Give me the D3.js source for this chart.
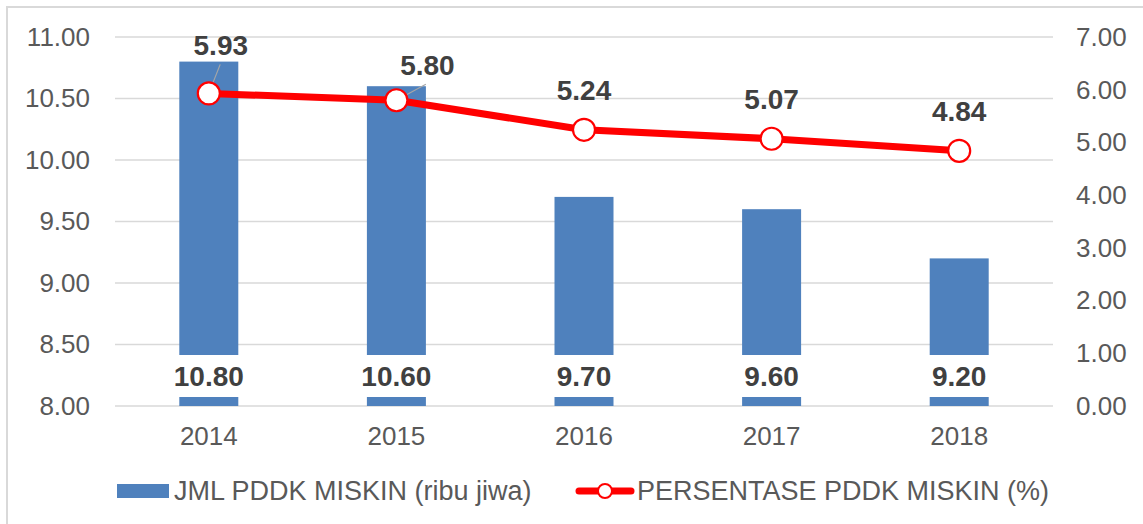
<!DOCTYPE html>
<html>
<head>
<meta charset="utf-8">
<script src="https://cdn.jsdelivr.net/npm/d3@7"></script>
<style>
  body { margin: 0; background: #fff; }
  svg { display: block; font-family: "Liberation Sans", Arial, sans-serif; }
</style>
</head>
<body>
<svg id="chart" width="1143" height="524"></svg>
<script>
(function(){
    "use strict";

    // data
    var years = ["2014", "2015", "2016", "2017", "2018"];
    var jmlMiskin = [10.80, 10.60, 9.70, 9.60, 9.20];      // ribu jiwa, left axis
    var persenMiskin = [5.93, 5.80, 5.24, 5.07, 4.84];     // %, right axis
    var leftTicks = [8.0, 8.5, 9.0, 9.5, 10.0, 10.5, 11.0];
    var rightTicks = [0, 1, 2, 3, 4, 5, 6, 7];

    // label nudges for the line labels (dx, dy from the point)
    var lineLabelNudge = [[12, -38], [31, -25], [0, -30], [0, -30], [0, -30]];

    var svg = d3.select("#chart");
    var blue = "#4f81bd", red = "#ff0000", axisGrey = "#595959", labelDark = "#404040";

    // outer frame
    svg.append("rect")
        .attr("x", 7).attr("y", 7)
        .attr("width", 1300).attr("height", 700)
        .attr("fill", "none")
        .attr("stroke", "#d9d9d9")
        .attr("stroke-width", 2);

    var x = d3.scaleBand().domain(years).range([115, 1053]);
    var yL = d3.scaleLinear().domain([8, 11]).range([406, 37]);
    var yR = d3.scaleLinear().domain([0, 7]).range([406, 37]);

    // gridlines
    svg.append("g")
        .selectAll("line")
        .data(leftTicks)
        .enter()
        .append("line")
        .attr("x1", 115).attr("x2", 1053)
        .attr("y1", function(d) { return yL(d); })
        .attr("y2", function(d) { return yL(d); })
        .attr("stroke", "#d9d9d9")
        .attr("stroke-width", 1.5);

    function styleAxis(g) {
        g.select(".domain").remove();
        g.selectAll("text")
            .attr("fill", axisGrey)
            .style("font-size", "26px")
            .style("font-family", "Liberation Sans, Arial, sans-serif");
    }

    // left axis
    svg.append("g")
        .attr("transform", "translate(115,0)")
        .call(d3.axisLeft(yL).tickValues(leftTicks).tickFormat(d3.format(".2f")).tickSize(0).tickPadding(25))
        .call(styleAxis);

    // right axis
    svg.append("g")
        .attr("transform", "translate(1053,0)")
        .call(d3.axisRight(yR).tickValues(rightTicks).tickFormat(d3.format(".2f")).tickSize(0).tickPadding(23))
        .call(styleAxis);

    // bottom axis
    svg.append("g")
        .attr("transform", "translate(0,406)")
        .call(d3.axisBottom(x).tickSize(0).tickPadding(21))
        .call(styleAxis);

    // bars
    var barW = 59;
    svg.append("g")
        .selectAll("rect")
        .data(jmlMiskin)
        .enter()
        .append("rect")
        .attr("x", function(d, i) { return x(years[i]) + x.bandwidth() / 2 - barW / 2; })
        .attr("y", function(d) { return yL(d); })
        .attr("width", barW)
        .attr("height", function(d) { return yL(8) - yL(d); })
        .attr("fill", blue);

    // bar labels, inside base with white box
    var barLab = svg.append("g")
        .selectAll("g")
        .data(jmlMiskin)
        .enter()
        .append("g")
        .attr("transform", function(d, i) {
            return "translate(" + (x(years[i]) + x.bandwidth() / 2) + "," + (yL(8) - 30) + ")";
        });
    barLab.append("rect")
        .attr("x", -44).attr("y", -21)
        .attr("width", 88).attr("height", 42)
        .attr("fill", "#fff");
    barLab.append("text")
        .attr("text-anchor", "middle")
        .attr("y", 10)
        .attr("fill", labelDark)
        .style("font-size", "28px")
        .style("font-weight", "bold")
        .text(function(d) { return d3.format(".2f")(d); });

    // line
    var cx = function(i) { return x(years[i]) + x.bandwidth() / 2; };
    var line = d3.line()
        .x(function(d, i) { return cx(i); })
        .y(function(d) { return yR(d); });

    svg.append("path")
        .datum(persenMiskin)
        .attr("d", line)
        .attr("fill", "none")
        .attr("stroke", red)
        .attr("stroke-width", 7)
        .attr("stroke-linejoin", "round")
        .attr("stroke-linecap", "round");

    // leader lines for the nudged labels
    svg.append("g")
        .selectAll("line")
        .data(persenMiskin.filter(function(d, i) { return lineLabelNudge[i][0] !== 0; }))
        .enter()
        .append("line")
        .attr("x1", function(d, i) { return cx(i); })
        .attr("y1", function(d) { return yR(d); })
        .attr("x2", function(d, i) { return cx(i) + lineLabelNudge[i][0] * 0.95; })
        .attr("y2", function(d, i) { return yR(d) + lineLabelNudge[i][1] + 9; })
        .attr("stroke", "#a6a6a6")
        .attr("stroke-width", 1.2);

    svg.append("g")
        .selectAll("circle")
        .data(persenMiskin)
        .enter()
        .append("circle")
        .attr("cx", function(d, i) { return cx(i); })
        .attr("cy", function(d) { return yR(d); })
        .attr("r", 11)
        .attr("fill", "#fff")
        .attr("stroke", red)
        .attr("stroke-width", 2.2);

    svg.append("g")
        .selectAll("text")
        .data(persenMiskin)
        .enter()
        .append("text")
        .attr("x", function(d, i) { return cx(i) + lineLabelNudge[i][0]; })
        .attr("y", function(d, i) { return yR(d) + lineLabelNudge[i][1]; })
        .attr("text-anchor", "middle")
        .attr("fill", labelDark)
        .style("font-size", "28px")
        .style("font-weight", "bold")
        .text(function(d) { return d3.format(".2f")(d); });

    // legend
    var legend = svg.append("g");
    legend.append("rect")
        .attr("x", 117).attr("y", 484)
        .attr("width", 52).attr("height", 14)
        .attr("fill", blue);
    legend.append("text")
        .attr("x", 174).attr("y", 500)
        .attr("fill", axisGrey)
        .style("font-size", "27px")
        .text("JML PDDK MISKIN (ribu jiwa)");

    legend.append("line")
        .attr("x1", 579).attr("x2", 631)
        .attr("y1", 491).attr("y2", 491)
        .attr("stroke", red)
        .attr("stroke-width", 7)
        .attr("stroke-linecap", "round");
    legend.append("circle")
        .attr("cx", 605).attr("cy", 491)
        .attr("r", 7)
        .attr("fill", "#fff")
        .attr("stroke", red)
        .attr("stroke-width", 2);
    legend.append("text")
        .attr("x", 637).attr("y", 500)
        .attr("fill", axisGrey)
        .style("font-size", "27px")
        .text("PERSENTASE PDDK MISKIN (%)");

}());
</script>
</body>
</html>
